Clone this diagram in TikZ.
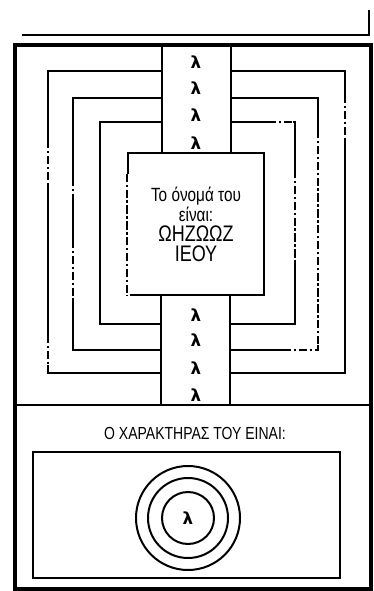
\documentclass[tikz,border=0pt]{standalone}
\usepackage{fontspec}
\setmainfont{Liberation Sans}[FakeStretch=0.8]
\newfontfamily\lamfont{DejaVu Sans}
\usetikzlibrary{positioning}

\begin{document}
\begin{tikzpicture}[x=0.6pt,y=-0.6pt,
      frame/.style={line width=1.2pt},
      broken/.style={line width=1.2pt,dash pattern=on 5pt off 1.5pt on 1.5pt off 1.5pt},
      erase/.style={white,line width=3pt},
      lam/.style={font=\lamfont\bfseries\fontsize{10}{10}\selectfont},
      namebox/.style={rectangle,draw,fill=white,line width=1.2pt,minimum width=81.6pt,minimum height=85.2pt,align=center,inner sep=0pt}
    ]

    \useasboundingbox (0,0) rectangle (374,591);

    % top rule and outer frame
    \draw[line width=1.3pt] (22,35) -- (369,35) -- (369,10);
    \draw[line width=2pt] (15,45) rectangle (371,589);
    \draw[line width=1.3pt] (15,405) -- (371,405);

    % nested frames
    \foreach \t/\b/\l/\r in {71/373/48/345, 98/350/73/318, 122/324/100/295}{
      \draw[frame] (162,\t) -- (\l,\t) -- (\l,\b) -- (162,\b);
      \draw[frame] (231,\t) -- (\r,\t) -- (\r,\b) -- (231,\b);
    }
    \foreach \x/\ya/\yb in {48/140/185, 48/335/365, 73/178/200, 73/240/300, 295/170/262, 318/130/345, 345/95/140}{
      \draw[erase] (\x,\ya) -- (\x,\yb);
      \draw[broken] (\x,\ya) -- (\x,\yb);
    }
    \draw[erase] (268,122) -- (293,122);
    \draw[broken] (268,122) -- (293,122);
    \draw[erase] (283,350) -- (315,350);
    \draw[broken] (283,350) -- (315,350);

    % strip
    \draw[frame] (162,45) -- (162,153) (231,45) -- (231,153);
    \draw[frame] (161,295) -- (161,405) (230,295) -- (230,405);

    \node[namebox] (name) at (196,224) {%
      \fontsize{11.5}{17}\selectfont Το όνομά του\\
      \fontsize{11.5}{15}\selectfont είναι:\\
      \fontsize{13.5}{14}\selectfont ΩΗΖΩΩΖ\\
      \fontsize{13.5}{14}\selectfont ΙΕΟΥ};
    \draw[erase] ([yshift=-13pt]name.north west) -- (name.south west);
    \draw[broken] ([yshift=-13pt]name.north west) -- (name.south west);

    \foreach \y in {62,88,115,143,315,340,368,395}
      \node[lam] at (196,\y) {λ};

    % character
    \node[font=\fontsize{10.5}{11}\selectfont] (char) at (195,433) {Ο ΧΑΡΑΚΤΗΡΑΣ ΤΟΥ ΕΙΝΑΙ:};
    \draw[frame] (33,452) rectangle (340,578);
    \foreach \r in {52,40,26}
      \draw[frame] (188,518) circle (\r);
    \node[lam] (seal) at (188,518) {λ};

  \end{tikzpicture}
\end{document}
